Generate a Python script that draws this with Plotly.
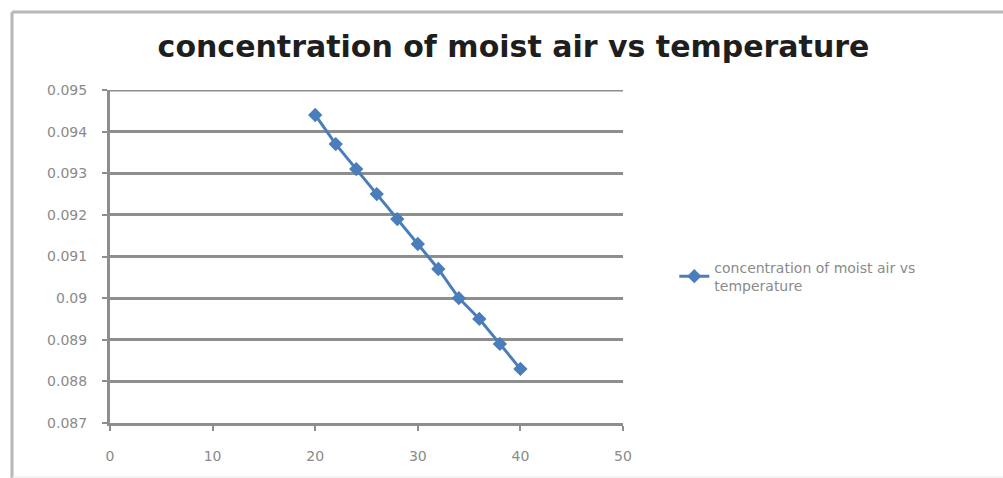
import plotly.graph_objects as go

temperature = [20, 22, 24, 26, 28, 30, 32, 34, 36, 38, 40]
concentration = [0.0944, 0.0937, 0.0931, 0.0925, 0.0919, 0.0913, 0.0907, 0.0900, 0.0895, 0.0889, 0.0883]
y_tick_vals = [0.087, 0.088, 0.089, 0.090, 0.091, 0.092, 0.093, 0.094, 0.095]
y_tick_text = ["0.087", "0.088", "0.089", "0.09", "0.091", "0.092", "0.093", "0.094", "0.095"]
x_tick_vals = [0, 10, 20, 30, 40, 50]

title_text = "concentration of moist air vs temperature"
series_name = "concentration of moist air vs<br>temperature"

blue = "#4a7ebb"
grid = "#8e8e8e"
label = "#8a8a8a"
tick_font = dict(family="DejaVu Sans", size=14, color=label)

fig = go.Figure()
fig.add_trace(go.Scatter(
    x=temperature, y=concentration, mode="lines+markers", name=series_name,
    line=dict(color=blue, width=3),
    marker=dict(symbol="diamond", size=11, color=blue),
))

fig.update_layout(
    width=1003, height=478,
    margin=dict(l=110, r=380, t=90, b=55),
    paper_bgcolor="white", plot_bgcolor="white",
    title=dict(text="<b>" + title_text + "</b>", x=0.512, xanchor="center", y=0.902, yanchor="middle",
               font=dict(family="DejaVu Sans", size=30, color="#1e1e1e")),
    showlegend=True,
    legend=dict(x=1.1, y=0.44, xanchor="left", yanchor="middle",
                font=dict(family="DejaVu Sans", size=14, color=label),
                bgcolor="rgba(0,0,0,0)", tracegroupgap=0),
    xaxis=dict(range=[0, 50], tickvals=x_tick_vals, showgrid=False, zeroline=False,
               showline=True, linecolor=grid, linewidth=3,
               ticks="outside", ticklen=5, tickcolor=grid, tickwidth=2,
               ticklabelstandoff=13, tickfont=tick_font),
    yaxis=dict(range=[0.087, 0.095], tickvals=y_tick_vals, ticktext=y_tick_text,
               showgrid=True, gridcolor=grid, gridwidth=3, zeroline=False,
               showline=True, linecolor=grid, linewidth=3,
               ticks="outside", ticklen=5, tickcolor=grid, tickwidth=2,
               ticklabelstandoff=12, tickfont=tick_font),
    shapes=[
        dict(type="line", xref="paper", yref="y", x0=0, x1=1, y0=0.095, y1=0.095,
             line=dict(color=grid, width=3)),
        dict(type="line", xref="paper", yref="paper", x0=-0.191, x1=1.741, y0=1.234, y1=1.234,
             line=dict(color="#b8b8b8", width=3)),
        dict(type="line", xref="paper", yref="paper", x0=-0.191, x1=-0.191, y0=1.234, y1=-0.165,
             line=dict(color="#b8b8b8", width=3)),
        dict(type="line", xref="paper", yref="paper", x0=-0.191, x1=1.741, y0=-0.162, y1=-0.162,
             line=dict(color="#e8e8e8", width=1)),
    ],
)

fig.write_html("out.html")
